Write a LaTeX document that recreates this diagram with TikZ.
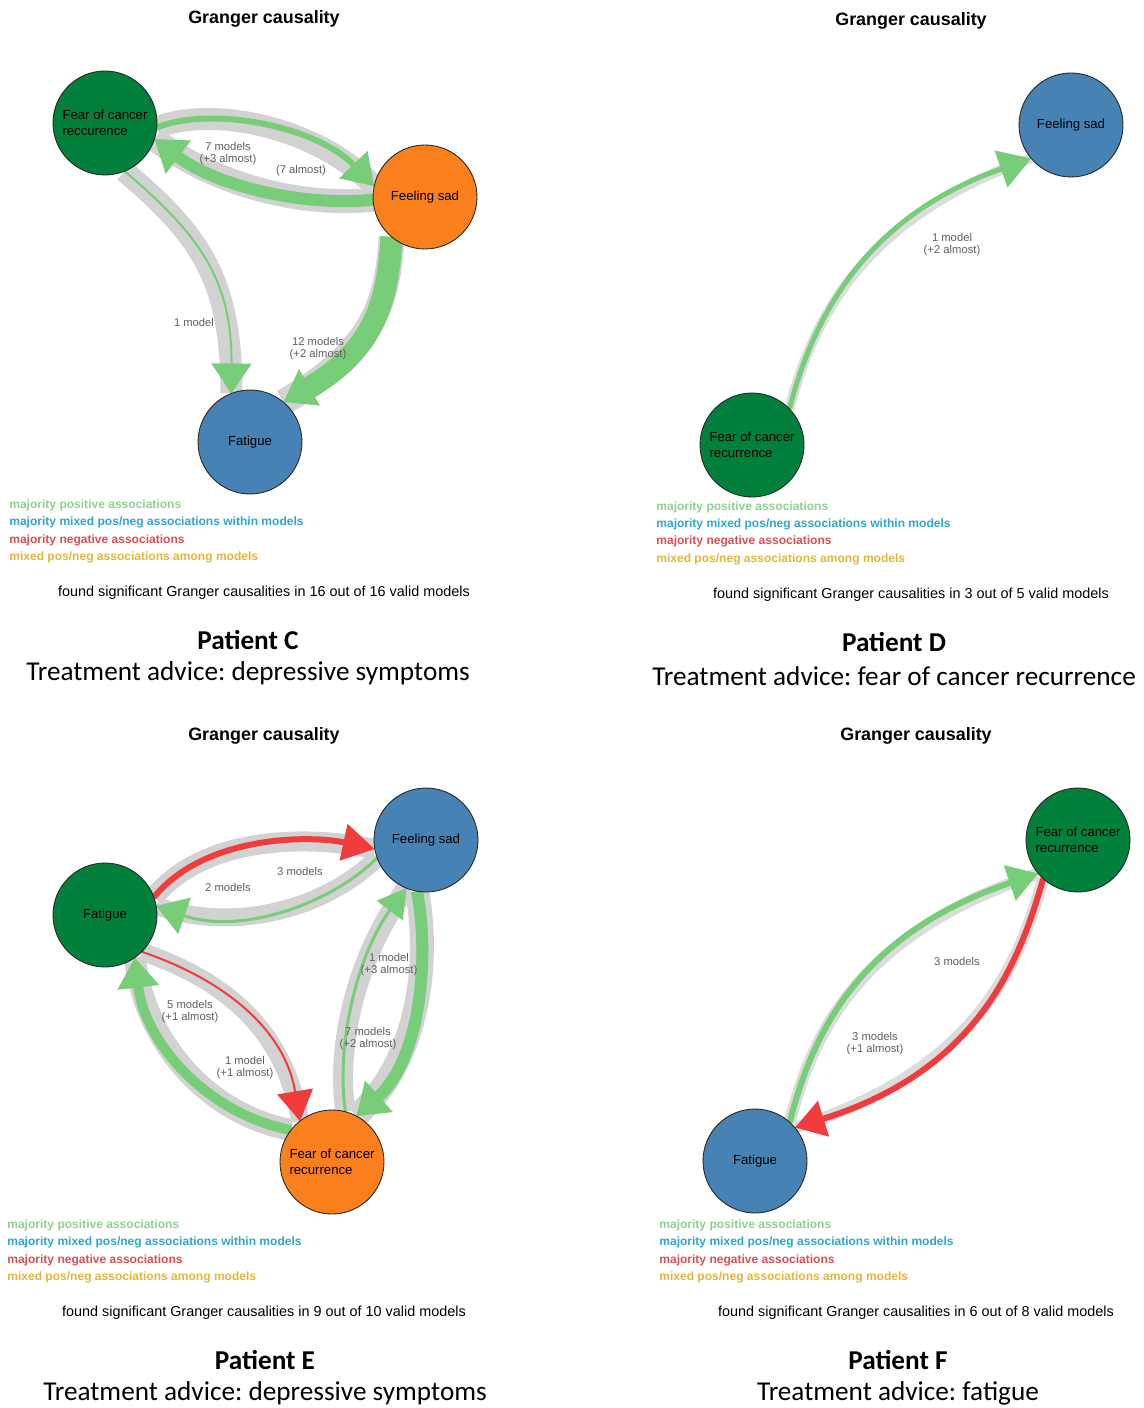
\documentclass[tikz,border=0pt]{standalone}
\usepackage{fontspec}
\setmainfont{Liberation Sans}
\newfontfamily\calib{Carlito}
\usetikzlibrary{arrows.meta}
\frenchspacing
\pgfdeclarelayer{bg}
\pgfdeclarelayer{halo}
\pgfdeclarelayer{edgelay}
\pgfsetlayers{bg,halo,edgelay,main}
\definecolor{nodegreen}{RGB}{0,128,58}
\definecolor{nodeorange}{RGB}{250,128,30}
\definecolor{nodeblue}{RGB}{70,130,180}
\definecolor{edgegreen}{RGB}{120,205,120}
\definecolor{edgered}{RGB}{240,60,60}
\definecolor{halogray}{RGB}{210,210,210}
\definecolor{halolight}{RGB}{220,220,220}
\definecolor{lblgray}{RGB}{95,95,95}
\definecolor{leggreen}{RGB}{144,208,144}
\definecolor{legteal}{RGB}{45,168,205}
\definecolor{legred}{RGB}{222,78,90}
\definecolor{legyellow}{RGB}{230,180,60}
\newcommand{\grEdge}[5]{%
  \begin{pgfonlayer}{halo}\draw[#1] #5;\end{pgfonlayer}%
  \begin{pgfonlayer}{edgelay}\draw[#2,line width=#3,-{Triangle[#4]}] #5;\end{pgfonlayer}}
\tikzset{
  nd/.style={circle,draw=black!85,line width=0.5pt,minimum size=2.08cm,inner sep=0pt,outer sep=0pt,
    font=\fontsize{7.5}{9.1}\selectfont,align=left,text=black},
  ndG/.style={nd,fill=nodegreen},
  ndO/.style={nd,fill=nodeorange},
  ndB/.style={nd,fill=nodeblue},
  lbl/.style={font=\fontsize{6.4}{6.9}\selectfont,text=lblgray,align=center,inner sep=0pt},
  gtitle/.style={font=\bfseries\fontsize{10.2}{12}\selectfont,inner sep=0pt},
  foundtxt/.style={font=\fontsize{8.2}{10}\selectfont,inner sep=0pt},
  pat/.style={font=\calib\bfseries\fontsize{15.5}{18}\selectfont,inner sep=0pt},
  adv/.style={font=\calib\fontsize{15.5}{18}\selectfont,inner sep=0pt},
  leg/.style={font=\bfseries\fontsize{6.85}{8}\selectfont,anchor=west,inner sep=0pt},
  hal/.style={draw=halogray,line width=#1},
  hall/.style={draw=halolight,line width=#1},
  posE/.style={draw=edgegreen},
  negE/.style={draw=edgered},
}
\begin{document}
\begin{tikzpicture}[x=0.02cm,y=-0.02cm]
\begin{pgfonlayer}{bg}
\fill[white] (0,0) rectangle (1143,1408);
\end{pgfonlayer}
\useasboundingbox (0,0) rectangle (1143,1408);

% ---------------- Patient C ----------------
\node[gtitle] (ct) at (264,19) {Granger causality};
\node[ndG] (cF) at (105,123) {Fear of cancer\\reccurence};
\node[ndO] (cS) at (425,197) {Feeling sad};
\node[ndB] (cT) at (250,442) {Fatigue};
\grEdge{hal=0.44cm}{posE}{0.12cm}{length=0.6cm,width=0.76cm}{(cF.-5) .. controls (210,106) and (315,125) .. (cS.168)}
\grEdge{hal=0.48cm}{posE}{0.24cm}{length=0.6cm,width=0.8cm}{(cS.183) .. controls (300,207) and (215,185) .. (cF.-18)}
\grEdge{hal=0.44cm}{posE}{0.04cm}{length=0.6cm,width=0.8cm}{(cF.-68) .. controls (200,235) and (232,280) .. (cT.111)}
\grEdge{hal=0.52cm}{posE}{0.44cm}{length=0.6cm,width=0.8cm}{(cS.-130) .. controls (388,300) and (375,350) .. (cT.50)}
\node[lbl] (cl1) at (228,154) {7 models\\(+3 almost)};
\node[lbl] (cl2) at (301,171) {(7 almost)};
\node[lbl] (cl3) at (194,322) {1 model};
\node[lbl] (cl4) at (318,349) {12 models\\(+2 almost)};
\node[leg,text=leggreen] (cg1) at (9,505) {majority positive associations};
\node[leg,text=legteal] (cg2) at (9,522) {majority mixed pos/neg associations within models};
\node[leg,text=legred] (cg3) at (9,540) {majority negative associations};
\node[leg,text=legyellow] (cg4) at (9,557) {mixed pos/neg associations among models};
\node[foundtxt] (cfo) at (264,593) {found significant Granger causalities in 16 out of 16 valid models};
\node[pat] (cp) at (248,640) {Patient C};
\node[adv] (ca) at (248,673) {Treatment advice: depressive symptoms};

% ---------------- Patient D ----------------
\node[gtitle] (dt) at (911,21) {Granger causality};
\node[ndB] (dS) at (1071,125) {Feeling sad};
\node[ndG] (dF) at (752,445) {Fear of cancer\\recurrence};
\grEdge{hall=0.2cm}{posE}{0.1cm}{length=0.64cm,width=0.76cm}{(dF.44) .. controls (815,310) and (870,215) .. (dS.-140)}
\node[lbl] (dl1) at (952,245) {1 model\\(+2 almost)};
\node[leg,text=leggreen] (dg1) at (656,507) {majority positive associations};
\node[leg,text=legteal] (dg2) at (656,524) {majority mixed pos/neg associations within models};
\node[leg,text=legred] (dg3) at (656,541) {majority negative associations};
\node[leg,text=legyellow] (dg4) at (656,559) {mixed pos/neg associations among models};
\node[foundtxt] (dfo) at (911,595) {found significant Granger causalities in 3 out of 5 valid models};
\node[pat] (dp) at (894,642) {Patient D};
\node[adv] (da) at (894,676) {Treatment advice: fear of cancer recurrence};

% ---------------- Patient E ----------------
\node[gtitle] (et) at (264,736) {Granger causality};
\node[ndG] (eT) at (105,915) {Fatigue};
\node[ndB] (eS) at (426,840) {Feeling sad};
\node[ndO] (eF) at (332,1162) {Fear of cancer\\recurrence};
\grEdge{hal=0.4cm}{negE}{0.12cm}{length=0.64cm,width=0.72cm}{(eT.20) .. controls (205,835) and (310,835) .. (eS.190)}
\grEdge{hal=0.36cm}{posE}{0.06cm}{length=0.6cm,width=0.76cm}{(eS.200) .. controls (330,905) and (240,935) .. (eT.10)}
\grEdge{hal=0.36cm}{negE}{0.04cm}{length=0.6cm,width=0.72cm}{(eT.-45) .. controls (225,980) and (285,1030) .. (eF.128)}
\grEdge{hal=0.44cm}{posE}{0.2cm}{length=0.6cm,width=0.8cm}{(eF.142) .. controls (210,1115) and (145,1045) .. (eT.-55)}
\grEdge{hal=0.4cm}{posE}{0.06cm}{length=0.56cm,width=0.64cm}{(eF.75) .. controls (335,1040) and (360,950) .. (eS.-112)}
\grEdge{hal=0.48cm}{posE}{0.24cm}{length=0.6cm,width=0.8cm}{(eS.-100) .. controls (430,960) and (420,1060) .. (eF.62)}
\node[lbl] (el1) at (300,871) {3 models};
\node[lbl] (el2) at (228,887) {2 models};
\node[lbl] (el3) at (190,1012) {5 models\\(+1 almost)};
\node[lbl] (el4) at (245,1068) {1 model\\(+1 almost)};
\node[lbl] (el5) at (389,965) {1 model\\(+3 almost)};
\node[lbl] (el6) at (368,1039) {7 models\\(+2 almost)};
\node[leg,text=leggreen] (eg1) at (7,1225) {majority positive associations};
\node[leg,text=legteal] (eg2) at (7,1242) {majority mixed pos/neg associations within models};
\node[leg,text=legred] (eg3) at (7,1260) {majority negative associations};
\node[leg,text=legyellow] (eg4) at (7,1277) {mixed pos/neg associations among models};
\node[foundtxt] (efo) at (264,1313) {found significant Granger causalities in 9 out of 10 valid models};
\node[pat] (ep) at (265,1360) {Patient E};
\node[adv] (ea) at (265,1393) {Treatment advice: depressive symptoms};

% ---------------- Patient F ----------------
\node[gtitle] (ft) at (916,736) {Granger causality};
\node[ndG] (fF) at (1078,840) {Fear of cancer\\recurrence};
\node[ndB] (fT) at (755,1161) {Fatigue};
\grEdge{hall=0.24cm}{posE}{0.12cm}{length=0.6cm,width=0.72cm}{(fT.48) .. controls (815,1020) and (870,930) .. (fF.-140)}
\grEdge{hall=0.24cm}{negE}{0.12cm}{length=0.6cm,width=0.72cm}{(fF.-132) .. controls (1020,960) and (980,1070) .. (fT.40)}
\node[lbl] (fl1) at (957,961) {3 models};
\node[lbl] (fl2) at (875,1044) {3 models\\(+1 almost)};
\node[leg,text=leggreen] (fg1) at (659,1225) {majority positive associations};
\node[leg,text=legteal] (fg2) at (659,1242) {majority mixed pos/neg associations within models};
\node[leg,text=legred] (fg3) at (659,1260) {majority negative associations};
\node[leg,text=legyellow] (fg4) at (659,1277) {mixed pos/neg associations among models};
\node[foundtxt] (ffo) at (916,1313) {found significant Granger causalities in 6 out of 8 valid models};
\node[pat] (fp) at (898,1360) {Patient F};
\node[adv] (fa) at (898,1393) {Treatment advice: fatigue};
\end{tikzpicture}
\end{document}
